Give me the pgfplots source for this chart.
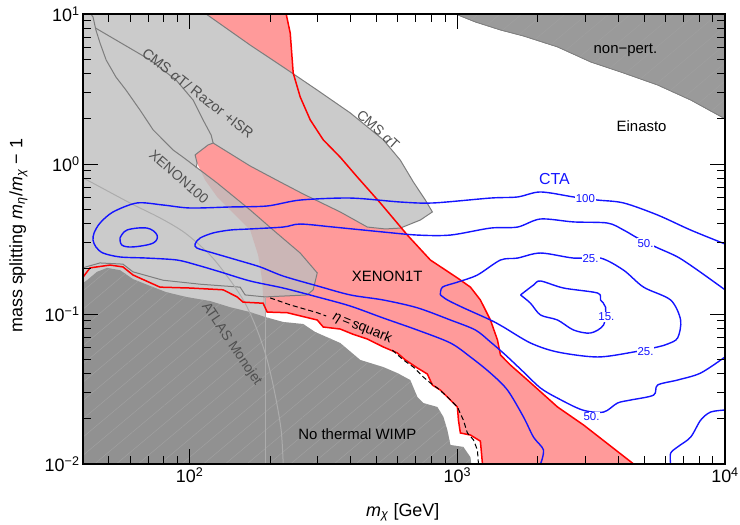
\documentclass[border=0pt]{standalone}
\usepackage{fontspec}
\setmainfont{Liberation Sans}
\usepackage{pgfplots}
\pgfplotsset{compat=1.18}
\usetikzlibrary{patterns.meta}
\definecolor{pinkfill}{RGB}{255,154,154}
\definecolor{cmsgray}{RGB}{203,203,203}
\definecolor{xgray}{RGB}{190,190,190}
\definecolor{darkg}{RGB}{145,145,145}
\definecolor{hatchg}{RGB}{160,160,160}
\definecolor{bline}{RGB}{125,125,125}
\definecolor{lline}{RGB}{172,172,172}
\definecolor{labgray}{RGB}{80,80,80}
\definecolor{ctablue}{RGB}{20,20,255}
\begin{document}
\begin{tikzpicture}
\useasboundingbox (-83bp,-61bp) rectangle (657bp,464bp);
\begin{axis}[
  at={(0,0)}, anchor=south west,
  scale only axis, width=642bp, height=450bp,
  xmode=log, ymode=log,
  xmin=40, xmax=10000, ymin=0.01, ymax=10,
  xtick={100,1000,10000},
  xticklabels={10\textsuperscript{2},10\textsuperscript{3},10\textsuperscript{4}},
  ytick={0.01,0.1,1,10},
  yticklabels={10\textsuperscript{−2},10\textsuperscript{−1},10\textsuperscript{0},10\textsuperscript{1}},
  minor xtick={50,60,70,80,90,200,300,400,500,600,700,800,900,2000,3000,4000,5000,6000,7000,8000,9000},
  minor ytick={0.02,0.03,0.04,0.05,0.06,0.07,0.08,0.09,0.2,0.3,0.4,0.5,0.6,0.7,0.8,0.9,2,3,4,5,6,7,8,9},
  tick align=inside,
  major tick length=15bp, minor tick length=8bp,
  tick style={black, line width=0.9bp},
  axis line style={black, line width=1.2bp},
  tick label style={font=\fontsize{18}{21}\selectfont},
  xlabel={\textit{m}\textsubscript{\textit{χ}} [GeV]},
  ylabel={mass splitting \textit{m}\textsubscript{\textit{η}}/\textit{m}\textsubscript{\textit{χ}} − 1},
  label style={font=\fontsize{18}{22}\selectfont},
  xlabel style={at={(axis description cs:0.498,-0.107)}, anchor=center},
  ylabel style={at={(axis description cs:-0.1005,0.507)}, anchor=center},
  axis on top,
]
% XENON1T region
\addplot[fill=pinkfill, draw=none] coordinates {
(115.3,10) (229.6,10) (237.7,7.47) (243.9,4.04) (259.0,2.80) (282.3,1.97) (315.7,1.45) (365.5,1.11) (423.2,0.819) (515.8,0.550) (651.0,0.336) (793.5,0.229) (1001,0.174) (1120,0.151) (1220,0.124) (1330,0.0912) (1413,0.0671) (1450,0.0533) (1579,0.0457) (1829,0.0363) (2368,0.0240) (2963,0.0182) (4556,0.01)
(1242,0.01) (1220,0.0142) (1120,0.0156) (1027,0.0161) (1010,0.0196) (1001,0.0240) (942.8,0.0267) (865.0,0.0311) (807.3,0.0336) (773.3,0.0398) (709.4,0.0437) (639.7,0.0494) (597.2,0.0550) (529.3,0.0603) (461.3,0.0681) (405.4,0.0736) (365.5,0.0794) (315.7,0.0819) (299.9,0.0912) (231.6,0.102) (195.0,0.103) (188.3,0.118)
(188.3,0.130) (186.7,0.168) (180.4,0.247) (168.4,0.363) (145.5,0.471) (126.8,0.603) (114.3,0.782) (106.7,1.015) (104.9,1.15) (117.3,1.34) (120.4,1.51)
} -- cycle;
% XENON100 region
\addplot[fill=xgray, fill opacity=0.8, draw=none] coordinates {
(40,10) (42.8,10) (43.6,9.55) (44.7,7.82) (46.3,6.41) (48.8,4.94) (53.1,3.80) (57.9,3.11) (65.3,2.29) (73.1,1.69) (86.8,1.24) (94.6,1.11) (126.8,0.747) (168.4,0.494) (205.3,0.363) (259.0,0.255) (299.9,0.188) (289.6,0.145) (275.0,0.134) (191.6,0.130) (191.6,0.01) (40,0.01)
} -- cycle;
% CMS regions
\addplot[fill=cmsgray, draw=none] coordinates {
(42.8,10) (115.3,10) (168.4,6.21) (223.8,4.43) (299.9,3.11) (398.5,2.19) (529.3,1.45) (612.9,1.06) (685.4,0.759) (760.0,0.575) (807.3,0.479) (727.5,0.423) (612.9,0.374) (538.3,0.369) (461.3,0.380) (365.5,0.479) (265.8,0.631) (218.1,0.759) (168.4,0.970) (122.5,1.38) (117.3,1.34) (104.9,1.15) (106.7,1.015) (105.8,0.940) (94.6,1.11) (86.8,1.24) (73.1,1.69) (65.3,2.29) (57.9,3.11) (53.1,3.80) (48.8,4.94) (46.3,6.41) (44.7,7.82) (43.6,9.55)
} -- cycle;
% no thermal WIMP
\addplot[fill=darkg, draw=none, postaction={pattern={Lines[angle=40,distance=14bp,line width=0.5bp]}, pattern color=hatchg}] coordinates {
(40,0.161) (41.4,0.168) (45.1,0.191) (49.2,0.203) (55.0,0.196) (61.5,0.171) (71.2,0.154) (81.7,0.140) (97.1,0.130) (119.4,0.122) (141.8,0.111) (168.4,0.103) (191.6,0.0955) (223.8,0.0885) (265.8,0.0858) (294.6,0.0759) (365.5,0.0641) (434.3,0.0494) (529.3,0.0443) (597.2,0.0404) (667.8,0.0363) (709.4,0.0280) (746.9,0.0255) (843.0,0.0240) (887.6,0.0206) (918.8,0.0168) (942.8,0.0134) (1054,0.0130) (1120,0.0111) (1128,0.01) (40,0.01)
} -- cycle;
% non-perturbative
\addplot[fill=darkg!92!white, draw=bline, line width=0.6bp, postaction={pattern={Lines[angle=40,distance=14bp,line width=0.5bp]}, pattern color=hatchg}] coordinates {
(984,10) (1169,8.84) (1450,7.82) (1767,7.13) (2368,6.03) (3146,4.79) (4180,4.04) (5601,3.36) (7440,2.67) (10000,2.0) (10000,10)
} -- cycle;
% boundary lines of grey regions
\addplot[bline, line width=1bp] coordinates {
(115.3,10) (168.4,6.21) (223.8,4.43) (299.9,3.11) (398.5,2.19) (529.3,1.45) (612.9,1.06) (685.4,0.759) (760.0,0.575) (807.3,0.479) (727.5,0.423) (612.9,0.374) (538.3,0.369) (461.3,0.380) (365.5,0.479) (265.8,0.631) (218.1,0.759) (168.4,0.970) (122.5,1.38) (117.3,1.34) (104.9,1.15) (106.7,1.015) (105.8,0.940)
};
\addplot[bline, line width=1bp] coordinates {
(44.5,8.07) (53.1,6.71) (71.2,4.94) (89.1,3.63) (103.1,2.67) (112.3,1.97) (120.4,1.56) (122.5,1.38)
};
\addplot[bline, line width=1bp] coordinates {
(42.8,10) (43.6,9.55) (44.7,7.82) (46.3,6.41) (48.8,4.94) (53.1,3.80) (57.9,3.11) (65.3,2.29) (73.1,1.69) (86.8,1.24) (94.6,1.11) (126.8,0.747) (168.4,0.494) (205.3,0.363) (259.0,0.255) (299.9,0.188) (289.6,0.145) (275.0,0.134) (191.6,0.130)
};
\addplot[bline, line width=1bp] coordinates {
(40,0.203) (41.0,0.206) (46.3,0.219) (56.4,0.215) (61.5,0.191) (79.6,0.168) (109.5,0.158) (154.5,0.151) (161.3,0.134) (191.6,0.130)
};
\addplot[lline, line width=1bp] coordinates {(191.6,0.130) (191.6,0.01)};
% ATLAS monojet boundary
\addplot[lline, line width=1bp, smooth] coordinates {
(40,0.794) (41.4,0.782) (59.9,0.550) (77.6,0.437) (96.2,0.347) (119.4,0.247) (141.8,0.168) (161.3,0.118) (178.9,0.0782) (195.0,0.0494) (208.9,0.0288) (219.9,0.0168) (223.8,0.01)
};
% XENON1T red boundaries
\addplot[red, line width=1.5bp] coordinates {
(229.6,10) (237.7,7.47) (243.9,4.04) (259.0,2.80) (282.3,1.97) (315.7,1.45) (365.5,1.11) (423.2,0.819) (515.8,0.550) (651.0,0.336) (793.5,0.229) (1001,0.174) (1120,0.151) (1220,0.124) (1330,0.0912) (1413,0.0671) (1450,0.0533) (1579,0.0457) (1829,0.0363) (2368,0.0240) (2963,0.0182) (4556,0.01)
};
\addplot[red, line width=1.5bp] coordinates {
(40,0.176) (42.5,0.203) (50.5,0.212) (56.4,0.206) (61.5,0.182) (77.6,0.151) (100.5,0.149) (133.5,0.145) (150.6,0.130) (158.5,0.120) (188.3,0.118) (195.0,0.103) (231.6,0.102) (299.9,0.0912) (315.7,0.0819) (365.5,0.0794) (405.4,0.0736) (461.3,0.0681) (529.3,0.0603) (597.2,0.0550) (639.7,0.0494) (709.4,0.0437) (773.3,0.0398) (807.3,0.0336) (865.0,0.0311) (942.8,0.0267) (1001,0.0240) (1010,0.0196) (1027,0.0161) (1120,0.0156) (1220,0.0142) (1242,0.01)
};
% eta = squark dashed
\addplot[black, line width=1bp, dash pattern=on 5bp off 3bp] coordinates {
(200.0,0.128) (237.7,0.115) (299.9,0.102) (323.8,0.0970)
};
\addplot[black, line width=1bp, dash pattern=on 5bp off 3bp] coordinates {
(571.8,0.0575) (628.9,0.0494) (685.4,0.0443) (746.9,0.0380) (793.5,0.0347) (843.0,0.0321) (918.8,0.0280) (1001,0.0240) (1054,0.0196) (1091,0.0161) (1149,0.0145) (1189,0.0124) (1200,0.01)
};
% CTA contours
\addplot[ctablue, line width=1.4bp, smooth, tension=0.5] coordinates {
(10000,0.293) (7440,0.363) (5601,0.457) (4180,0.550) (3341,0.575) (2719,0.603) (2046,0.651) (1679,0.603) (1330,0.593) (813.7,0.550) (612.9,0.558) (398.5,0.593) (259.0,0.575) (195.0,0.525) (141.8,0.517) (100.5,0.509) (79.6,0.533) (63.7,0.550) (51.8,0.479) (46.3,0.404) (44.0,0.347) (43.6,0.311) (44.7,0.280) (47.5,0.255) (55.0,0.240) (69.4,0.236) (89.8,0.229) (106.7,0.212) (130.1,0.191) (168.4,0.166) (223.8,0.149) (299.9,0.130) (398.5,0.113) (529.3,0.0940) (709.4,0.0782) (942.8,0.0641) (1120,0.0517) (1330,0.0404) (1540,0.0311) (1767,0.0206) (1927,0.0151) (2099,0.0124) (2046,0.01)
};
\addplot[ctablue, line width=1.4bp, smooth, tension=0.5] coordinates {
(6264,0.01) (6264,0.0118) (6653,0.0130) (7440,0.0151) (8109,0.0196) (8837,0.0222) (10000,0.0229)
};
\addplot[ctablue, line width=1.4bp, smooth, tension=0.5] coordinates {
(10000,0.145) (7903,0.196) (6653,0.240) (5505,0.280) (4714,0.321) (4180,0.363) (3642,0.404) (2719,0.411) (2046,0.430) (1679,0.380) (1330,0.374) (942.8,0.336) (709.4,0.336) (529.3,0.352) (344.1,0.380) (259.0,0.398) (223.8,0.380) (168.4,0.369) (141.8,0.363) (122.5,0.347) (109.5,0.321) (104.9,0.293) (106.7,0.275) (122.5,0.255) (150.6,0.229) (183.5,0.206) (223.8,0.179) (299.9,0.154) (398.5,0.134) (529.3,0.124) (709.4,0.110) (942.8,0.0912) (1169,0.0782) (1330,0.0651) (1514,0.0533) (1767,0.0411) (2046,0.0321) (2368,0.0275) (2937,0.0229) (3518,0.0222) (3968,0.0255) (4440,0.0267) (5411,0.0288) (5601,0.0336) (6653,0.0363) (8109,0.0404) (10000,0.0517)
};
\addplot[ctablue, line width=1.4bp, smooth, tension=0.6] coordinates {
(55.0,0.321) (58.4,0.363) (69.4,0.374) (75.6,0.336) (73.1,0.297) (61.5,0.280) (55.9,0.288) (55.0,0.321)
};
\addplot[ctablue, line width=1.4bp, smooth, tension=0.5] coordinates {
(865.0,0.134) (880.1,0.151) (1001,0.163) (1189,0.182) (1450,0.229) (1679,0.236) (2046,0.255) (2719,0.236) (3428,0.236) (4180,0.196) (4965,0.151) (6264,0.124) (6827,0.0912) (6653,0.0692) (6104,0.0631) (5601,0.0603) (4556,0.0558) (3341,0.0517) (2368,0.0558) (1877,0.0641) (1487,0.0819) (1330,0.0912) (1054,0.110) (918.8,0.124) (865.0,0.134)
};
\addplot[ctablue, line width=1.4bp, smooth, tension=0.5] coordinates {
(1723,0.134) (1927,0.156) (2046,0.166) (2494,0.149) (3341,0.138) (3428,0.124) (3580,0.111) (3518,0.0845) (3146,0.0747) (2719,0.0782) (2368,0.0912) (2046,0.0985) (1877,0.118) (1723,0.134)
};
% contour labels
\tikzset{clab/.style={fill=white, inner sep=1pt, text=ctablue, font=\fontsize{11.5}{13}\selectfont}}
\node[clab] at (axis cs:3010,0.584) {100};
\node[clab] at (axis cs:5046,0.297) {50.};
\node[clab] at (axis cs:3146,0.236) {25.};
\node[clab] at (axis cs:3607,0.0955) {15.};
\node[clab] at (axis cs:5046,0.0558) {25.};
\node[clab] at (axis cs:3173,0.0206) {50.};
% text labels
\node[text=ctablue, font=\fontsize{16}{18}\selectfont] at (axis cs:2306,0.794) {CTA};
\node[font=\fontsize{15}{18}\selectfont] at (axis cs:4880,1.79) {Einasto};
\node[font=\fontsize{15}{18}\selectfont] at (axis cs:4248,5.75) {non−pert.};
\node[font=\fontsize{15}{18}\selectfont] at (axis cs:547.7,0.179) {XENON1T};
\node[font=\fontsize{15}{18}\selectfont] at (axis cs:423.2,0.0158) {No thermal WIMP};
\node[rotate=-22, font=\fontsize{14}{16}\selectfont] at (axis cs:441.8,0.0807) {\textit{η}\,=\,squark};
\node[rotate=-38, text=labgray, font=\fontsize{14.5}{17}\selectfont] at (axis cs:107.6,2.97) {CMS \textit{α}T/ Razor +ISR};
\node[rotate=-42, text=labgray, font=\fontsize{14}{17}\selectfont] at (axis cs:507,1.69) {CMS \textit{α}T};
\node[rotate=-41, text=labgray, font=\fontsize{14}{17}\selectfont] at (axis cs:91.4,0.819) {XENON100};
\node[rotate=-56, text=labgray, font=\fontsize{14}{17}\selectfont] at (axis cs:143.5,0.0630) {ATLAS Monojet};
\end{axis}
\end{tikzpicture}
\end{document}
